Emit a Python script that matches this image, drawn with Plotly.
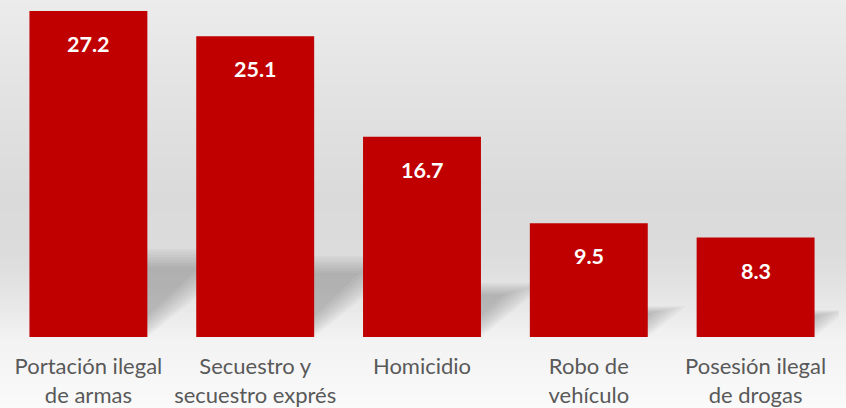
import plotly.graph_objects as go

categories = ["Portación ilegal<br>de armas", "Secuestro y<br>secuestro exprés",
              "Homicidio", "Robo de<br>vehículo", "Posesión ilegal<br>de drogas"]
values = [27.2, 25.1, 16.7, 9.5, 8.3]
value_labels = ["27.2", "25.1", "16.7", "9.5", "8.3"]

W, H = 846, 408
M_T, M_B, M_L, M_R = 11, 71, 5, 7
PLOT_H = H - M_T - M_B
PLOT_W = W - M_L - M_R
BAR_COLOR = "#c00000"

xpos = list(range(len(categories)))

fig = go.Figure()
fig.add_trace(go.Bar(
    x=xpos, y=values, marker=dict(color=BAR_COLOR, line=dict(width=0)),
    hoverinfo="skip", width=0.707,
))

shapes = []

# background gradient (pixel stops -> paper coords)
stops = [(0, (236, 236, 236)), (100, (226, 226, 226)), (200, (218, 218, 218)),
         (255, (220, 220, 220)), (300, (230, 230, 230)), (337, (242, 242, 242)),
         (408, (250, 250, 250))]

def col_at(y):
    for (y0, c0), (y1, c1) in zip(stops[:-1], stops[1:]):
        if y0 <= y <= y1:
            t = (y - y0) / (y1 - y0) if y1 > y0 else 0
            return tuple(round(a + (b - a) * t) for a, b in zip(c0, c1))
    return stops[-1][1]

def to_paper(ypx):
    return (H - M_B - ypx) / PLOT_H

step = 4
for ypx in range(-8, H + 8, step):
    c = col_at(min(max(ypx + step / 2, 0), H))
    shapes.append(dict(type="rect", xref="paper", yref="paper", layer="below",
                       x0=-0.1, x1=1.1, y0=to_paper(ypx + step + 0.5), y1=to_paper(ypx),
                       fillcolor="rgb(%d,%d,%d)" % c, line=dict(width=0)))

# soft perspective shadows behind bars
half = 0.707 / 2
layers = [(s / 100.0, 0.028) for s in range(0, 24, 3)]
for i, v in enumerate(values):
    hs = 0.27 * v
    dx = 0.024 * v
    for shrink, alpha in layers:
        x0 = i - half + shrink
        x1 = i + half - shrink * 0.6
        y0 = 0.0
        y1 = hs * (1 - shrink * 1.0)
        d = dx * (1 - shrink * 1.6)
        path = "M %f,%f L %f,%f L %f,%f L %f,%f Z" % (x0, y0, x1, y0, x1 + d, y1, x0 + d, y1)
        shapes.append(dict(type="path", xref="x", yref="y", layer="below", path=path,
                           fillcolor="rgba(0,0,0,%f)" % alpha, line=dict(width=0)))

annotations = []
for i, (v, lab) in enumerate(zip(values, value_labels)):
    annotations.append(dict(x=i, y=v, xref="x", yref="y", text="<b>%s</b>" % lab,
                            showarrow=False, yanchor="middle", yshift=-33,
                            font=dict(family="Lato", size=21.5, color="white")))

fig.update_layout(
    width=W, height=H,
    margin=dict(t=M_T, b=M_B, l=M_L, r=M_R, pad=0, autoexpand=False),
    paper_bgcolor="#f4f4f4", plot_bgcolor="rgba(0,0,0,0)",
    showlegend=False, shapes=shapes, annotations=annotations,
    bargap=0.29,
    xaxis=dict(tickvals=xpos, ticktext=categories, range=[-0.5, len(categories) - 0.5],
               showgrid=False, zeroline=False, showline=False, ticks="",
               ticklabelstandoff=14, automargin=False,
               tickfont=dict(family="Lato", size=22, color="#595959")),
    yaxis=dict(range=[0, max(values)], visible=False, showgrid=False, zeroline=False,
               automargin=False),
)

fig.write_html("out.html", config={"displayModeBar": False},
               post_script="document.body.style.margin='0';document.body.style.padding='0';")
